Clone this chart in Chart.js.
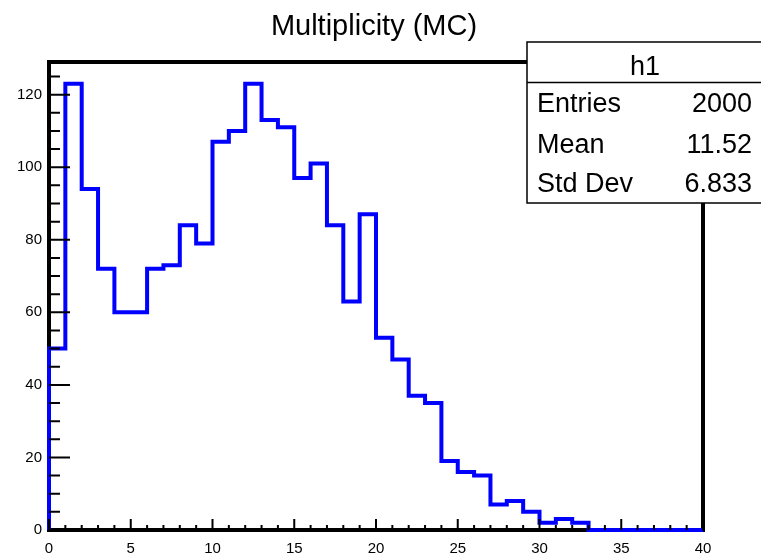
<!DOCTYPE html>
<html>
<head>
<meta charset="utf-8">
<script src="https://cdn.jsdelivr.net/npm/chart.js@4/dist/chart.umd.min.js"></script>
<style>
  html, body { margin: 0; padding: 0; background: #ffffff; }
  canvas { display: block; }
</style>
</head>
<body>
<canvas id="c" width="761" height="556"></canvas>
<script>
// ---- data ----
const chartTitle = "Multiplicity (MC)";
const histName = "h1";
const xMin = 0;
const xMax = 40;
const binWidth = 1;
const counts = [
  50, 123, 94, 72, 60, 60, 72, 73, 84, 79,
  107, 110, 123, 113, 111, 97, 101, 84, 63, 87,
  53, 47, 37, 35, 19, 16, 15, 7, 8, 5,
  2, 3, 2, 0, 0, 0, 0, 0, 0, 0
];
const yMax = 129;
const xTickStep = 5;
const yTickStep = 20;
const statLabels = ["Entries", "Mean", "Std Dev"];
const statValues = ["2000", "11.52", "6.833"];

// build step outline points from the bin contents
const points = [{ x: xMin, y: 0 }];
counts.forEach((c, i) => points.push({ x: xMin + i * binWidth, y: c }));
points.push({ x: xMax, y: counts[counts.length - 1] });
points.push({ x: xMax, y: 0 });

const FONT = '"Liberation Sans", Arial, Helvetica, sans-serif';

const framePlugin = {
  id: 'frame',
  beforeDatasetsDraw(chart) {
    const ctx = chart.ctx;
    const a = chart.chartArea;
    ctx.save();
    ctx.strokeStyle = '#000';
    ctx.lineWidth = 4;
    ctx.lineCap = 'square';
    ctx.beginPath();
    ctx.moveTo(a.left, a.top);
    ctx.lineTo(a.left, a.bottom);
    ctx.lineTo(a.right, a.bottom);
    ctx.lineTo(a.right, a.top);
    ctx.lineTo(a.left, a.top);
    ctx.stroke();
    ctx.restore();
  },
  afterDatasetsDraw(chart) {
    const ctx = chart.ctx;
    const a = chart.chartArea;
    const xs = chart.scales.x, ys = chart.scales.y;
    ctx.save();
    ctx.strokeStyle = '#000';
    ctx.lineWidth = 2;
    ctx.beginPath();
    for (let v = xMin; v <= xMax; v += 1) {
      const px = xs.getPixelForValue(v);
      const len = (v % xTickStep === 0) ? 11 : 5;
      ctx.moveTo(px, a.bottom);
      ctx.lineTo(px, a.bottom - len);
    }
    for (let v = 0; v <= yMax; v += 5) {
      const py = ys.getPixelForValue(v);
      const len = (v % yTickStep === 0) ? 21 : 11;
      ctx.moveTo(a.left, py);
      ctx.lineTo(a.left + len, py);
    }
    ctx.stroke();
    ctx.restore();
  },
  afterDraw(chart) {
    const ctx = chart.ctx;
    ctx.save();
    // title
    ctx.fillStyle = '#000';
    ctx.font = '29px ' + FONT;
    ctx.textAlign = 'center';
    ctx.textBaseline = 'alphabetic';
    ctx.fillText(chartTitle, 374, 35);
    // stats box
    const bx = 527, by = 42, bw = 240, bh = 161;
    ctx.fillStyle = '#fff';
    ctx.fillRect(bx, by, bw, bh);
    ctx.strokeStyle = '#000';
    ctx.lineWidth = 1.5;
    ctx.strokeRect(bx, by, bw, bh);
    ctx.beginPath();
    ctx.moveTo(bx, 82.5);
    ctx.lineTo(bx + bw, 82.5);
    ctx.stroke();
    ctx.fillStyle = '#000';
    ctx.font = '27px ' + FONT;
    ctx.textAlign = 'center';
    ctx.fillText(histName, 645, 75);
    const baselines = [111.5, 153, 192];
    statLabels.forEach((l, i) => {
      ctx.textAlign = 'left';
      ctx.fillText(l, 537, baselines[i]);
      ctx.textAlign = 'right';
      ctx.fillText(statValues[i], 752, baselines[i]);
    });
    ctx.restore();
  }
};

new Chart(document.getElementById('c'), {
  type: 'line',
  data: {
    datasets: [{
      data: points,
      stepped: true,
      borderColor: '#0000ff',
      borderWidth: 4,
      pointRadius: 0,
      fill: false,
      tension: 0,
      clip: false,
      borderJoinStyle: 'miter',
      borderCapStyle: 'butt'
    }]
  },
  options: {
    responsive: false,
    animation: false,
    devicePixelRatio: 1,
    layout: { padding: { top: 62, right: 58, left: 0, bottom: 0 } },
    plugins: { legend: { display: false }, title: { display: false }, tooltip: { enabled: false } },
    scales: {
      x: {
        type: 'linear',
        min: xMin, max: xMax,
        grid: { display: false, drawTicks: false },
        border: { display: false },
        ticks: {
          stepSize: xTickStep,
          includeBounds: false,
          maxRotation: 0,
          padding: 10,
          color: '#000',
          font: { family: FONT, size: 15 }
        },
        afterFit(s) { s.height = 26; }
      },
      y: {
        type: 'linear',
        min: 0, max: yMax,
        grid: { display: false, drawTicks: false },
        border: { display: false },
        ticks: {
          stepSize: yTickStep,
          includeBounds: false,
          padding: 7,
          color: '#000',
          font: { family: FONT, size: 15 }
        },
        afterFit(s) { s.width = 49; }
      }
    }
  },
  plugins: [framePlugin]
});
</script>
</body>
</html>
